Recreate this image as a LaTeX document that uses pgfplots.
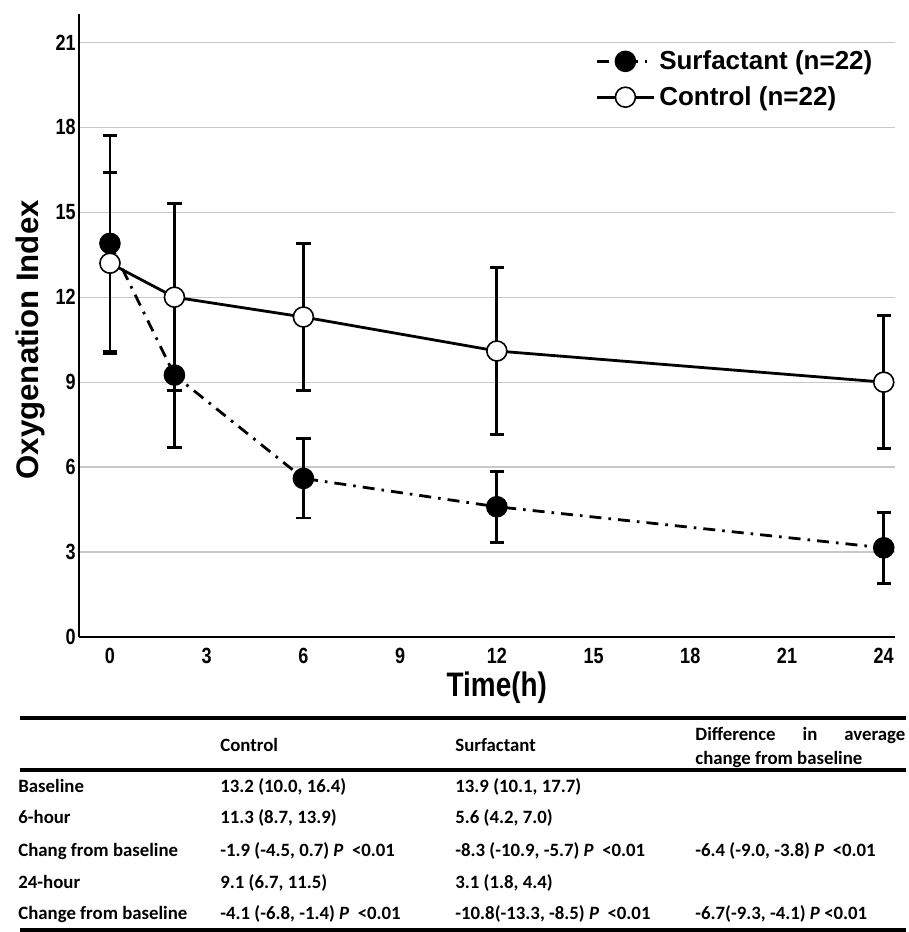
\documentclass[border=0pt]{standalone}
\usepackage{fontspec}
\setmainfont{Liberation Sans}
\newfontfamily\narrowsans[FakeStretch=0.82]{Liberation Sans}
\newfontfamily\tabfont{Carlito}
\usepackage{pgfplots}
\pgfplotsset{compat=1.18}
\definecolor{gridgray}{HTML}{C8C8C8}

% time (h), mean, upper and lower half-width of the 95% CI
\pgfplotstableread{
x   y     ep    em
0   13.9  3.8   3.8
2   9.25  2.55  2.55
6   5.6   1.4   1.4
12  4.6   1.25  1.25
24  3.15  1.25  1.25
}\surf
\pgfplotstableread{
x   y     ep    em
0   13.2  3.2   3.2
2   12.0  3.3   3.3
6   11.3  2.6   2.6
12  10.1  2.95  2.95
24  9.0   2.35  2.35
}\ctrl

\begin{document}
\begin{tikzpicture}
\useasboundingbox (0,0) rectangle (454.5pt,-466pt);
\begin{axis}[
    at={(39.5pt,-318.5pt)}, anchor=south west,
    scale only axis,
    width=408pt, height=311.5pt,
    xmin=-0.96, xmax=24.35,
    ymin=0, ymax=22,
    xtick={0,3,...,24},
    ytick={0,3,...,21},
    axis x line=bottom, axis y line=left,
    axis line style={-, line width=1.3pt},
    major tick length=0pt,
    ymajorgrids,
    grid style={gridgray, line width=0.6pt},
    /pgf/number format/assume math mode=true,
    tick label style={font=\fontsize{11}{13}\selectfont\narrowsans\bfseries},
    yticklabel style={inner xsep=1.5pt},
    xticklabel style={yshift=-2pt},
    xlabel={Time(h)},
    ylabel={Oxygenation Index},
    xlabel style={at={(axis description cs:0.512,-0.082)}, anchor=center,
        font=\fontsize{17}{20}\selectfont\narrowsans\bfseries},
    ylabel style={at={(axis description cs:-0.06,0.477)}, anchor=center,
        font=\fontsize{15.6}{18}\selectfont\bfseries},
    legend style={at={(axis description cs:0.985,0.955)}, anchor=north east,
        draw=none, fill=none, row sep=3pt,
        font=\fontsize{13}{15}\selectfont\bfseries},
    legend cell align=left,
    legend image code/.code={
        \draw[mark repeat=2, mark phase=2] plot coordinates {(0cm,0cm) (0.5cm,0cm) (1cm,0cm)};
    },
    error bars/y dir=both,
    error bars/y explicit,
    error bars/error mark options={solid, rotate=90, mark size=3.6pt, line width=1.4pt},
    error bars/error bar style={solid, line width=1.4pt},
]
\addplot[black, line width=1.4pt, dash pattern=on 6pt off 3.5pt on 1.3pt off 3.5pt,
    mark=*, mark size=5pt, mark options={solid, fill=black, line width=0.8pt}]
    table[x=x, y=y, y error plus=ep, y error minus=em] {\surf};
\addlegendentry{Surfactant (n=22)}
\addplot[black, line width=1.4pt,
    mark=*, mark size=5pt, mark options={solid, fill=white, line width=0.8pt}]
    table[x=x, y=y, y error plus=ep, y error minus=em] {\ctrl};
\addlegendentry{Control (n=22)}
\end{axis}

% summary table below the chart
\draw[line width=2pt] (10pt,-359pt) -- (453pt,-359pt);
\draw[line width=1.6pt] (10pt,-385pt) -- (453pt,-385pt);
\draw[line width=1.6pt] (10pt,-465pt) -- (453pt,-465pt);
\begin{scope}[every node/.style={anchor=base west, inner sep=0pt,
        font=\fontsize{9.4}{11}\selectfont\tabfont\bfseries}]
\node at (110pt,-375.5pt) {Control};
\node at (227.5pt,-375.5pt) {Surfactant};
\node at (347.5pt,-370pt) {\makebox[105pt][s]{Difference in average}};
\node at (347.5pt,-382pt) {change from baseline};

\node at (9pt,-396pt) {Baseline};
\node at (110pt,-396pt) {13.2 (10.0, 16.4)};
\node at (227.5pt,-396pt) {13.9 (10.1, 17.7)};

\node at (9pt,-411.5pt) {6-hour};
\node at (110pt,-411.5pt) {11.3 (8.7, 13.9)};
\node at (227.5pt,-411.5pt) {5.6 (4.2, 7.0)};

\node at (9pt,-428pt) {Chang from baseline};
\node at (110pt,-428pt) {-1.9 (-4.5, 0.7) \textit{P} \ <0.01};
\node at (227.5pt,-428pt) {-8.3 (-10.9, -5.7) \textit{P} \ <0.01};
\node at (347.5pt,-428pt) {-6.4 (-9.0, -3.8) \textit{P} \ <0.01};

\node at (9pt,-444pt) {24-hour};
\node at (110pt,-444pt) {9.1 (6.7, 11.5)};
\node at (227.5pt,-444pt) {3.1 (1.8, 4.4)};

\node at (9pt,-459.5pt) {Change from baseline};
\node at (110pt,-459.5pt) {-4.1 (-6.8, -1.4) \textit{P} \ <0.01};
\node at (227.5pt,-459.5pt) {-10.8(-13.3, -8.5) \textit{P} \ <0.01};
\node at (347.5pt,-459.5pt) {-6.7(-9.3, -4.1) \textit{P} <0.01};
\end{scope}
\end{tikzpicture}
\end{document}
